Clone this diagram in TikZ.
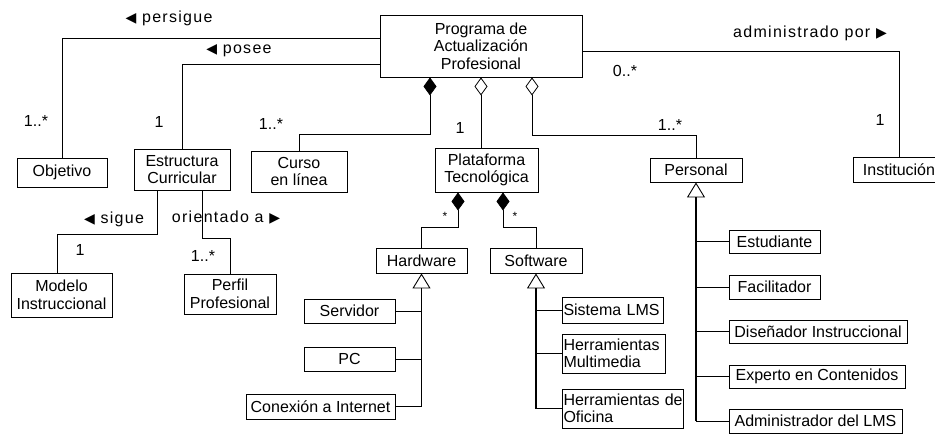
\documentclass[tikz,border=0pt]{standalone}
\usepackage{fontspec}
\setmainfont{Liberation Sans}
\newfontfamily\spacedfont{Liberation Sans}[LetterSpace=8]
\newfontfamily\symfont{DejaVu Sans}
\usetikzlibrary{arrows.meta}
\newcommand{\lft}{{\symfont\fontsize{14}{14}\selectfont ◀}}
\newcommand{\rgt}{{\symfont\fontsize{14}{14}\selectfont ▶}}
\begin{document}
\begin{tikzpicture}[x=1pt,y=-1pt,
  box/.style={draw, line width=0.9pt, inner sep=0pt, align=center, font=\fontsize{16}{17.5}\selectfont},
  lbox/.style={draw, line width=0.9pt, inner ysep=0pt, inner xsep=1.5pt, align=left, font=\fontsize{16}{17.5}\selectfont},
  conn/.style={line width=0.7pt},
  trunk/.style={line width=1.4pt, -{Triangle[open,length=15pt,width=18pt,line width=0.9pt]}},
  comp/.style={line width=0.7pt, -{Diamond[length=18pt,width=13pt]}},
  agg/.style={line width=0.7pt, -{Diamond[open,length=18pt,width=13pt,line width=0.8pt]}},
  mult/.style={font=\fontsize{16}{17}\selectfont, inner sep=0pt},
  star/.style={font=\fontsize{12}{12}\selectfont, inner sep=0pt},
  rel/.style={font=\spacedfont\fontsize{16}{17}\selectfont, inner sep=0pt}
]
\useasboundingbox (0,0) rectangle (935,436);
\clip (0,0) rectangle (935,436);

% boxes
\node[box, minimum width=202pt, minimum height=62pt] (prog) at (481,46) {Programa de\\Actualización\\Profesional};
\node[box, minimum width=90pt, minimum height=29pt] (obj) at (62,172.5) {Objetivo};
\node[box, minimum width=96pt, minimum height=41pt] (est) at (182,169.5) {Estructura\\Curricular};
\node[box, minimum width=96pt, minimum height=41pt] (curso) at (299,171.5) {Curso\\en línea};
\node[box, minimum width=103pt, minimum height=44pt] (plat) at (486.5,170) {Plataforma\\Tecnológica};
\node[box, minimum width=92pt, minimum height=24pt] (pers) at (696,170) {Personal};
\node[box, minimum width=92pt, minimum height=25pt] (inst) at (899,169.5) {Institución};
\node[box, minimum width=101pt, minimum height=44pt] (modelo) at (61.5,295) {Modelo\\Instruccional};
\node[box, minimum width=92pt, minimum height=40pt] (perfil) at (230,294) {Perfil\\Profesional};
\node[box, minimum width=91pt, minimum height=25pt] (hard) at (421.5,260.5) {Hardware};
\node[box, minimum width=92pt, minimum height=25pt] (soft) at (536,260.5) {Software};
\node[box, minimum width=91pt, minimum height=24pt] (serv) at (349.5,311) {Servidor};
\node[box, minimum width=91pt, minimum height=24pt] (pc) at (349.5,359) {PC};
\node[box, minimum width=149pt, minimum height=25pt] (conex) at (320.5,406.5) {Conexión a Internet};
\node[lbox, text width=98pt, minimum height=26pt] (lms) at (612.5,310) {Sistema LMS};
\node[lbox, text width=100pt, minimum height=39pt] (multi) at (613.5,353.5) {Herramientas\\Multimedia};
\node[lbox, text width=118pt, minimum height=39pt] (ofic) at (622.5,408.5) {\mbox{Herramientas de}\\Oficina};
\node[box, minimum width=91pt, minimum height=23pt] (estu) at (774.5,241.5) {Estudiante};
\node[box, minimum width=91pt, minimum height=24pt] (facil) at (774.5,287) {Facilitador};
\node[box, minimum width=178pt, minimum height=23pt] (dis) at (818,331.5) {Diseñador Instruccional};
\node[box, minimum width=176pt, minimum height=23pt] (exp) at (817,376.5) {Experto en Contenidos};
\node[box, minimum width=173pt, minimum height=24pt] (adm) at (815.5,421) {Administrador del LMS};

% associations
\draw[conn] (obj.north) |- (prog.west |- 0,38);
\draw[conn] (est.north) |- (prog.west |- 0,64);
\draw[conn] (inst.north) |- (prog.east |- 0,51);
\draw[comp] (curso.north) |- (430,134) -- (prog.south -| 430,0);
\draw[agg] (plat.north -| 481,0) -- (prog.south -| 481,0);
\draw[agg] (pers.north) |- (532,135) -- (prog.south -| 532,0);
\draw[comp] (hard.north) |- (458,227) -- (plat.south -| 458,0);
\draw[comp] (soft.north) |- (503,227) -- (plat.south -| 503,0);
\draw[conn] (est.south -| 157,0) -- (157,234) -| (modelo.north -| 57,0);
\draw[conn] (est.south -| 202,0) -- (202,238) -| (perfil.north);

% generalizations
\draw[trunk] (hard.south |- conex.east) -- (hard.south);
\draw[conn] (serv.east) -- (serv.east -| hard.south);
\draw[conn] (pc.east) -- (pc.east -| hard.south);
\draw[conn] (conex.east) -- (conex.east -| hard.south);
\draw[trunk] (soft.south |- ofic.west) -- (soft.south);
\draw[conn] (lms.west) -- (lms.west -| soft.south);
\draw[conn] (multi.west) -- (multi.west -| soft.south);
\draw[conn] (ofic.west) -- (ofic.west -| soft.south);
\draw[trunk] (pers.south |- adm.west) -- (pers.south);
\draw[conn] (estu.west) -- (estu.west -| pers.south);
\draw[conn] (facil.west) -- (facil.west -| pers.south);
\draw[conn] (dis.west) -- (dis.west -| pers.south);
\draw[conn] (exp.west) -- (exp.west -| pers.south);
\draw[conn] (adm.west) -- (adm.west -| pers.south);

% multiplicities
\node[mult] (m1) at (36,121) {1..*};
\node[mult] (m2) at (159,122) {1};
\node[mult] (m3) at (271,124) {1..*};
\node[mult] (m4) at (460,128) {1};
\node[mult] (m5) at (670,125) {1..*};
\node[mult] (m6) at (625,71) {0..*};
\node[mult] (m7) at (880,120) {1};
\node[mult] (m8) at (80,250) {1};
\node[mult] (m9) at (203,256) {1..*};
\node[star] (s1) at (445,216) {*};
\node[star] (s2) at (515,216) {*};

% relation names
\node[rel] (r1) at (169,18) {\lft\ persigue};
\node[rel] (r2) at (239,51) {\lft\ posee};
\node[rel] (r3) at (810,33) {administrado por \rgt};
\node[rel] (r4) at (114,219) {\lft\ sigue};
\node[rel] (r5) at (226,218) {orientado a \rgt};
\end{tikzpicture}
\end{document}
